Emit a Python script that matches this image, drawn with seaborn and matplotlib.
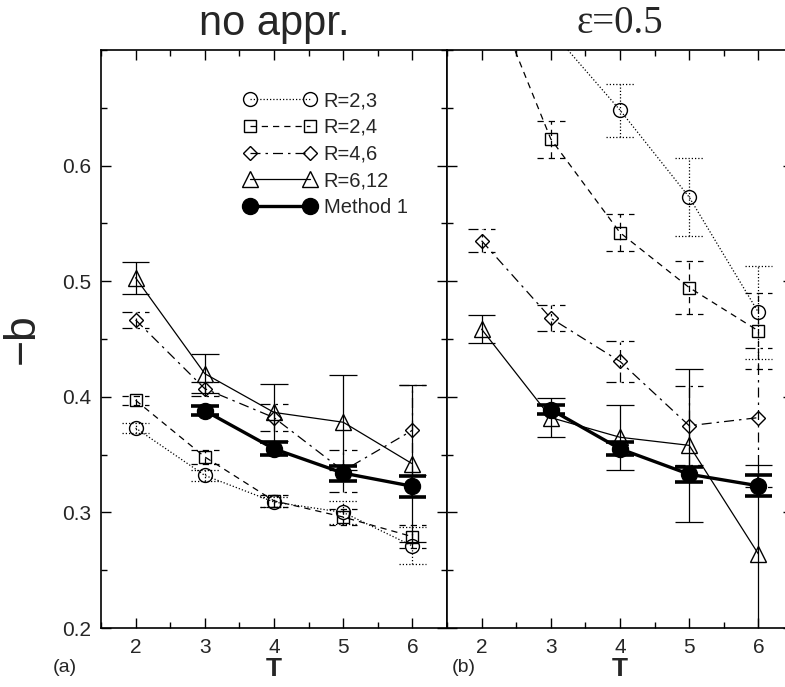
import numpy as np
import pandas as pd
import matplotlib
matplotlib.use("Agg")
import matplotlib.pyplot as plt
import matplotlib.transforms as mtrans
from matplotlib.lines import Line2D
from matplotlib.ticker import MultipleLocator
import seaborn as sns

# ---------------- data ----------------
T = [2, 3, 4, 5, 6]
series_labels = ["R=2,3", "R=2,4", "R=4,6", "R=6,12", "Method 1"]

# panel (a): no approximation
a_R23 = [0.373, 0.332, 0.309, 0.300, 0.271]
a_R23_err = [0.004, 0.005, 0.004, 0.010, 0.016]
a_R24 = [0.397, 0.348, 0.310, 0.296, 0.279]
a_R24_err = [0.004, 0.006, 0.005, 0.007, 0.010]
a_R46 = [0.4665, 0.407, 0.382, 0.336, 0.371]
a_R46_err = [0.007, 0.006, 0.012, 0.018, 0.039]
a_R612 = [0.503, 0.420, 0.3865, 0.378, 0.342]
a_R612_err = [0.014, 0.017, 0.025, 0.041, 0.068]
a_M1 = [np.nan, 0.388, 0.355, 0.334, 0.3226]
a_M1_err = [np.nan, 0.004, 0.0055, 0.0065, 0.009]

# panel (b): epsilon = 0.5
b_R23 = [np.nan, 0.717, 0.648, 0.5727, 0.473]
b_R23_err = [np.nan, 0.012, 0.023, 0.034, 0.040]
b_R24 = [0.771, 0.623, 0.542, 0.4945, 0.457]
b_R24_err = [0.020, 0.016, 0.016, 0.023, 0.033]
b_R46 = [0.535, 0.468, 0.4306, 0.375, 0.382]
b_R46_err = [0.010, 0.011, 0.018, 0.034, 0.060]
b_R612 = [0.4585, 0.382, 0.365, 0.358, 0.264]
b_R612_err = [0.012, 0.017, 0.028, 0.066, 0.077]
b_M1 = [np.nan, 0.389, 0.355, 0.333, 0.323]
b_M1_err = [np.nan, 0.004, 0.0055, 0.0065, 0.009]

panel_titles = ["no appr.", "ε=0.5"]
panel_tags = ["(a)", "(b)"]
x_ticks = [2, 3, 4, 5, 6]
y_ticks = [0.2, 0.3, 0.4, 0.5, 0.6]

# ---------------- style ----------------
sns.set_style("ticks")
plt.rcParams["font.family"] = ["Liberation Sans", "DejaVu Sans"]

styles = {
    "R=2,3": dict(marker="o", ls=(0, (1, 1.6)), lw=0.9, ms=10, mfc="none", zo=3),
    "R=2,4": dict(marker="s", ls=(0, (5, 4)), lw=0.9, ms=8.5, mfc="none", zo=3),
    "R=4,6": dict(marker="D", ls=(0, (8, 4, 2, 4)), lw=0.9, ms=7.5, mfc="none", zo=3),
    "R=6,12": dict(marker="^", ls="-", lw=0.9, ms=11, mfc="none", zo=4),
    "Method 1": dict(marker="o", ls="-", lw=2.4, ms=11.5, mfc="black", zo=6),
}

fig = plt.figure(figsize=(7.85, 6.87), dpi=100)
axW = 346 / 785
axH = 578 / 687
bottom = 59 / 687
ax_a = fig.add_axes([101 / 785, bottom, axW, axH])
ax_b = fig.add_axes([447 / 785, bottom, axW, axH])

panels = [
    (ax_a, [(a_R23, a_R23_err), (a_R24, a_R24_err), (a_R46, a_R46_err),
            (a_R612, a_R612_err), (a_M1, a_M1_err)]),
    (ax_b, [(b_R23, b_R23_err), (b_R24, b_R24_err), (b_R46, b_R46_err),
            (b_R612, b_R612_err), (b_M1, b_M1_err)]),
]

cap_half = 0.2
for ax, data in panels:
    for label, (vals, errs) in zip(series_labels, data):
        st = styles[label]
        df = pd.DataFrame({"T": T, "v": vals, "e": errs}).dropna()
        sns.lineplot(data=df, x="T", y="v", ax=ax, color="black",
                     linestyle=st["ls"], linewidth=st["lw"], marker=st["marker"],
                     markersize=st["ms"], markerfacecolor=st["mfc"],
                     markeredgecolor="black", markeredgewidth=1.0,
                     errorbar=None, zorder=st["zo"], legend=False)
        lo = df["v"] - df["e"]
        hi = df["v"] + df["e"]
        elw = 2.6 if label == "Method 1" else 0.9
        ax.vlines(df["T"], lo, hi, colors="black", linestyles=[st["ls"]],
                  linewidth=0.9 if label != "Method 1" else 1.2, zorder=st["zo"] - 1)
        ax.hlines(pd.concat([lo, hi]), pd.concat([df["T"], df["T"]]) - cap_half,
                  pd.concat([df["T"], df["T"]]) + cap_half, colors="black",
                  linestyles=[st["ls"]], linewidth=elw, zorder=st["zo"] - 1)

    ax.set_xlim(1.5, 6.5)
    ax.set_ylim(0.2, 0.7)
    ax.set_xticks(x_ticks)
    ax.xaxis.set_minor_locator(MultipleLocator(0.5))
    ax.yaxis.set_minor_locator(MultipleLocator(0.05))
    ax.tick_params(which="both", direction="in", top=True, right=True,
                   width=1.0, color="black")
    ax.tick_params(which="major", length=7)
    ax.tick_params(which="minor", length=4)
    ax.tick_params(axis="both", labelsize=15, pad=7)
    ax.set_xlabel("T", fontsize=19, fontweight="bold", va="center")
    ax.xaxis.set_label_coords(0.5, (628 - 669) / 578)
    ax.set_ylabel("")
    for sp in ax.spines.values():
        sp.set_linewidth(1.2)
        sp.set_color("black")

ax_a.set_yticks(y_ticks)
ax_a.set_yticklabels([f"{v:.1f}" for v in y_ticks])
ax_b.set_yticks(y_ticks)
ax_b.set_yticklabels([])
ax_a.set_ylabel("−b", fontsize=32, labelpad=14)

ax_a.set_title(panel_titles[0], fontsize=30, pad=11)
t_eps = ax_b.text(4, 1.0, panel_titles[1], ha="center", va="baseline", fontsize=28,
                  family=["Liberation Serif", "DejaVu Serif"])
t_eps.set_transform(ax_b.get_xaxis_transform() +
                    mtrans.ScaledTranslation(0, 17 / 100, fig.dpi_scale_trans))

fig.text(65 / 785, 1 - 668 / 687, panel_tags[0], ha="center", va="center", fontsize=14)
fig.text(464 / 785, 1 - 668 / 687, panel_tags[1], ha="center", va="center", fontsize=14)

handles = []
for label in series_labels:
    st = styles[label]
    handles.append(Line2D([], [], color="black", linestyle=st["ls"], linewidth=st["lw"],
                          marker=st["marker"], markersize=st["ms"],
                          markerfacecolor=st["mfc"], markeredgecolor="black"))
leg = ax_a.legend(handles, series_labels, loc="upper left", bbox_to_anchor=(0.3725, 0.953),
                  frameon=False, numpoints=2, handlelength=3.6, handletextpad=0.35,
                  labelspacing=0.38, fontsize=14.5, borderpad=0.2)

fig.savefig("out.png", dpi=100)
